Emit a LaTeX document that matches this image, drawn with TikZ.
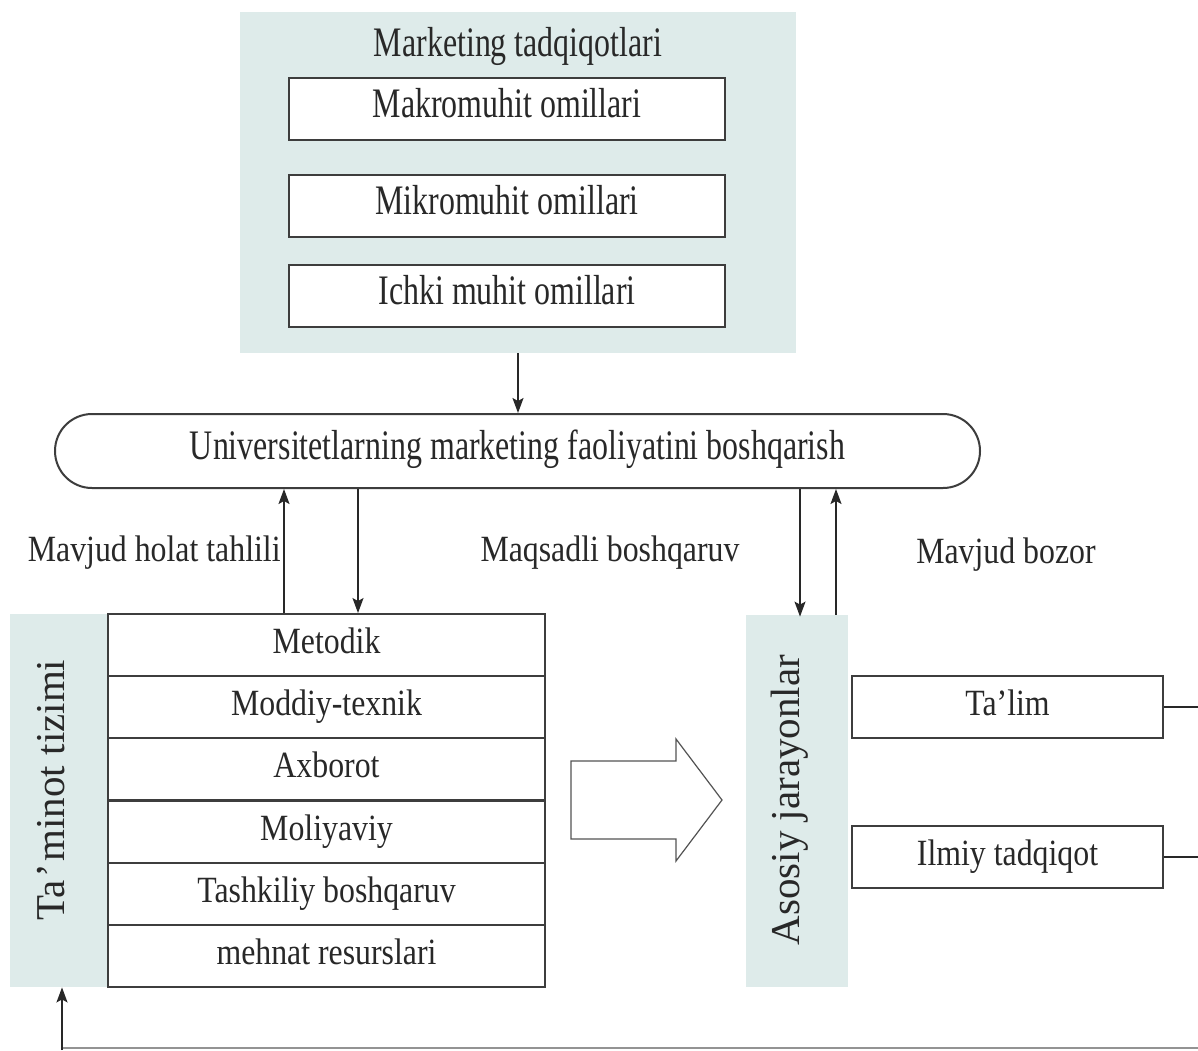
\documentclass[tikz,border=0pt]{standalone}
\usepackage{fontspec}
\setmainfont{Liberation Serif}[FakeStretch=0.86]
\newfontfamily\condA{Liberation Serif}[FakeStretch=0.76]
\newfontfamily\plainserif{Liberation Serif}
\usetikzlibrary{arrows.meta,shapes.misc}
\definecolor{tealbg}{RGB}{222,235,234}
\definecolor{ink}{RGB}{40,40,40}
\begin{document}
\begin{tikzpicture}[x=0.5pt,y=-0.5pt,
  every node/.style={font=\fontsize{18.5}{22}\selectfont, text=ink, inner sep=0pt},
  bigtxt/.style={font=\condA\fontsize{21}{24}\selectfont},
  rottxt/.style={font=\plainserif\fontsize{20.5}{24}\selectfont, rotate=90},
  panel/.style={fill=tealbg, draw=none},
  cell/.style={draw=ink!90, line width=1pt, fill=white, minimum height=31pt,
               text height=14.5pt, text depth=6pt},
  conn/.style={draw=ink, line width=0.8pt},
  arr/.style={conn, -{Stealth[length=7.5pt,width=5.5pt,inset=1.5pt]}}]
\useasboundingbox[fill=white] (0,0) rectangle (1198,1050);

% top panel
\node[panel, minimum width=278pt, minimum height=170.5pt] (top) at (518,182.5) {};
\node[bigtxt] (title) at (518,46) {Marketing tadqiqotlari};
\node[cell, bigtxt, minimum width=218pt] (makro) at (507,109) {Makromuhit omillari};
\node[cell, bigtxt, minimum width=218pt] (mikro) at (507,205.5) {Mikromuhit omillari};
\node[cell, bigtxt, minimum width=218pt] (ichki) at (507,296) {Ichki muhit omillari};

% management
\node[rounded rectangle, draw=ink!90, line width=1pt, fill=white, bigtxt,
      text height=14.5pt, text depth=6pt,
      minimum width=462.5pt, minimum height=37pt] (mgmt) at (517.5,451)
      {Universitetlarning marketing faoliyatini boshqarish};
\draw[arr] (top.south) -- (top.south |- mgmt.north);

% left panel and table
\node[panel, minimum width=49pt, minimum height=186.5pt] (lp) at (59,800.5) {};
\node[rottxt] (tmin) at (51,790) {Ta\kern0.06em’\kern0.06em minot tizimi};
\node[cell, minimum width=218.5pt, minimum height=31.08pt] (r1) at (326.5,645.1) {Metodik};
\node[cell, minimum width=218.5pt, minimum height=31.08pt] (r2) at (326.5,707.25) {Moddiy-texnik};
\node[cell, minimum width=218.5pt, minimum height=31.08pt] (r3) at (326.5,769.4) {Axborot};
\node[cell, minimum width=218.5pt, minimum height=31.08pt] (r4) at (326.5,831.6) {Moliyaviy};
\node[cell, minimum width=218.5pt, minimum height=31.08pt] (r5) at (326.5,893.75) {Tashkiliy boshqaruv};
\node[cell, minimum width=218.5pt, minimum height=31.08pt] (r6) at (326.5,955.9) {mehnat resurslari};

\draw[arr] ([xshift=-21.25pt]r1.north) -- ([xshift=-21.25pt]r1.north |- mgmt.south);
\draw[arr] ([xshift=15.75pt]r1.north |- mgmt.south) -- ([xshift=15.75pt]r1.north);

% labels
\node[anchor=east] (lab1) at (281,553) {Mavjud holat tahlili};
\node (lab2) at (610,553) {Maqsadli boshqaruv};
\node (lab3) at (1006,555) {Mavjud bozor};

% right panel
\node[panel, minimum width=51pt, minimum height=186pt] (rp) at (797,801) {};
\node[rottxt] (asos) at (790,800) {Asosiy jarayonlar};
\draw[arr] ([xshift=1.5pt]rp.north |- mgmt.south) -- ([xshift=1.5pt,yshift=-1pt]rp.north);
\draw[arr] ([xshift=19.5pt]rp.north) -- ([xshift=19.5pt]rp.north |- mgmt.south);

\node[cell, minimum width=155.5pt] (talim) at (1007.5,707) {Ta’lim};
\node[cell, minimum width=155.5pt] (ilmiy) at (1007.5,856.5) {Ilmiy tadqiqot};
\coordinate (e1) at (1198,707);
\coordinate (e2) at (1198,856.5);
\draw[conn, line width=1pt] (talim.east) -- (e1);
\draw[conn, line width=1pt] (ilmiy.east) -- (e2);

% big hollow arrow
\draw[draw=ink!80, line width=0.6pt, fill=white]
  (571,761) -- (676,761) -- (676,739) -- (722,800) -- (676,861) -- (676,839) -- (571,839) -- cycle;

% bottom feedback line
\coordinate (b1) at (62,1048);
\coordinate (b2) at (1198,1048);
\coordinate (b0) at (62,1050);
\draw[draw=ink!50, line width=0.7pt] (b1) -- (b2);
\draw[arr] (b0) -- ([xshift=1.5pt]lp.south);
\end{tikzpicture}
\end{document}
